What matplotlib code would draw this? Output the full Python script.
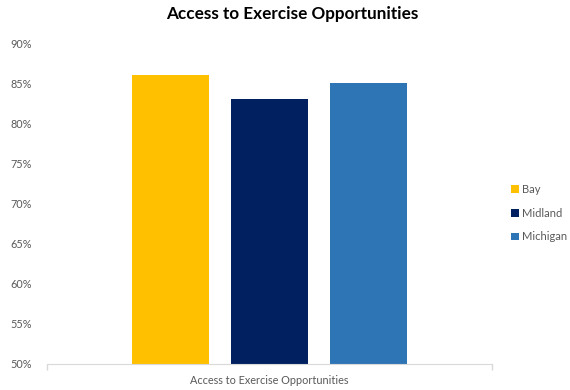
import matplotlib.pyplot as plt
import numpy as np
from matplotlib.ticker import FuncFormatter

plt.rcParams['font.family'] = ['Lato', 'DejaVu Sans']

# Values read as percentages
series = ["Bay", "Midland", "Michigan"]
values = [86, 83, 85]
colors = ["#FFC000", "#002060", "#2E75B6"]
category = "Access to Exercise Opportunities"

fig = plt.figure(figsize=(5.7, 3.9), dpi=100)
ax = fig.add_axes([0.0825, 0.0667, 0.7805, 0.823])

width = 0.173
step = 0.222
offsets = (np.arange(len(series)) - 1) * step
for off, val, col, name in zip(offsets, values, colors, series):
    ax.bar(off, val - 50, bottom=50, width=width, color=col, label=name)

ax.set_xlim(-0.5, 0.5)
ax.set_ylim(50, 90)
ax.set_yticks(np.arange(50, 91, 5))
ax.yaxis.set_major_formatter(FuncFormatter(lambda v, p: f"{v:.0f}%"))
ax.tick_params(axis='y', length=0, pad=11, labelsize=7.8, labelcolor="#595959")

ax.set_xticks([0])
ax.set_xticklabels([category])
ax.set_xticks([-0.5, 0.5], minor=True)
ax.tick_params(axis='x', which='major', length=0, pad=8, labelsize=7.8, labelcolor="#595959")
ax.tick_params(axis='x', which='minor', length=4, color="#D9D9D9", width=1)

for s in ["top", "right", "left"]:
    ax.spines[s].set_visible(False)
ax.spines["bottom"].set_color("#D9D9D9")

# title sits over the whole chart area, not just the plot box
ax.set_title("Access to Exercise Opportunities", fontsize=12.3, fontweight="bold",
             color="black", pad=17, x=0.551)

leg = ax.legend(loc="center left", bbox_to_anchor=(1.02, 0.47), frameon=False,
                fontsize=8, handlelength=0.7, handleheight=0.7, handletextpad=0.3,
                labelspacing=1.15, labelcolor="#595959")

fig.savefig("out.png", dpi=100)
